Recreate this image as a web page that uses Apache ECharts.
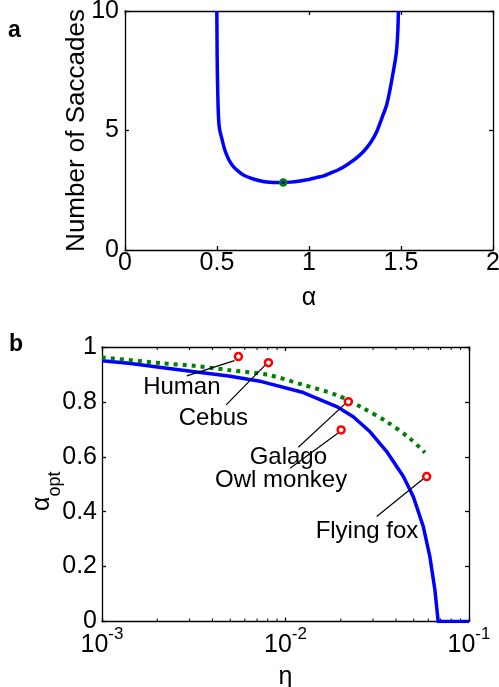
<!DOCTYPE html>
<html>
<head>
<meta charset="utf-8">
<script src="https://cdn.jsdelivr.net/npm/echarts@6/dist/echarts.min.js"></script>
<style>html,body{margin:0;padding:0;background:#fff;}#c{width:499px;height:687px;}</style>
</head>
<body>
<div id="c"></div>
<script>
// ---------- Panel a data ----------
const alphaA = [0.499, 0.500, 0.501, 0.503, 0.506, 0.511, 0.518, 0.526, 0.538, 0.553, 0.570, 0.589, 0.615, 0.643, 0.680, 0.716, 0.750, 0.788, 0.825, 0.860, 0.900, 0.951, 1.000, 1.040, 1.080, 1.114, 1.160, 1.205, 1.250, 1.295, 1.335, 1.368, 1.400, 1.422, 1.440, 1.458, 1.470, 1.477, 1.483, 1.486];
const nSaccades = [10, 9.0, 8.0, 7.0, 6.0, 5.23, 4.9, 4.67, 4.3, 3.97, 3.7, 3.49, 3.3, 3.14, 3.02, 2.93, 2.87, 2.83, 2.82, 2.82, 2.84, 2.89, 2.95, 3.03, 3.10, 3.21, 3.36, 3.56, 3.80, 4.11, 4.50, 4.95, 5.60, 6.07, 6.70, 7.46, 8.00, 8.44, 9.20, 10];
const minAlpha = [0.86];
const minN = [2.82];
const alphaTicks = [0, 0.5, 1, 1.5, 2];
const nTicks = [0, 5, 10];

// ---------- Panel b data ----------
const etaBlue = [0.001, 0.0014, 0.0021, 0.0032, 0.0049, 0.0074, 0.0125, 0.019, 0.0234, 0.0289, 0.0356, 0.0439, 0.0497, 0.0564, 0.0612, 0.0652, 0.0679, 0.1];
const alphaOptBlue = [0.950, 0.941, 0.925, 0.910, 0.894, 0.874, 0.834, 0.783, 0.746, 0.691, 0.619, 0.528, 0.455, 0.345, 0.236, 0.115, 0, 0];
const etaGreen = [0.001, 0.00212, 0.00322, 0.00489, 0.00807, 0.0125, 0.0190, 0.0265, 0.0356, 0.0476, 0.0575];
const alphaOptGreen = [0.962, 0.941, 0.931, 0.916, 0.898, 0.862, 0.825, 0.777, 0.728, 0.667, 0.615];
const species = ['Human', 'Cebus', 'Galago', 'Owl monkey', 'Flying fox'];
const etaSpecies = [0.00554, 0.00807, 0.0220, 0.0201, 0.0588];
const alphaSpecies = [0.965, 0.943, 0.801, 0.698, 0.528];
const etaExponents = [-3, -2, -1];
const alphaOptTicks = [0, 0.2, 0.4, 0.6, 0.8, 1];
const minorMultipliers = [2, 3, 4, 5, 6, 7, 8, 9];

// ---------- styles (offsets of annotation text / leader lines from each point, px) ----------
const annot = [
  {tx: -56.6, ty: 30.5, x1: -51.6, y1: 19.3, x2: -4, y2: 4},
  {tx: -55, ty: 56, x1: -42.3, y1: 42.3, x2: -3, y2: 2.3},
  {tx: -60, ty: 56, x1: -50, y1: 45.6, x2: -3.3, y2: 2.3},
  {tx: -60, ty: 50.5, x1: -51, y1: 38.3, x2: -3, y2: 3},
  {tx: -59.7, ty: 54.8, x1: -50, y1: 40, x2: -3, y2: 2}
];
const FONT = 'Liberation Sans, Arial, Helvetica, sans-serif';
const TXT = {fontFamily: FONT, fontSize: 25, color: '#000'};

const zip = (a, b) => a.map((v, i) => [v, b[i]]);
const minorTicks = [];
for (let e = etaExponents[0]; e < etaExponents[etaExponents.length - 1]; e++) {
  minorMultipliers.forEach(m => minorTicks.push([m * Math.pow(10, e), 0]));
}

const chart = echarts.init(document.getElementById('c'), null, {renderer: 'canvas'});
const tickIn = () => ({show: true, inside: true, length: 4, lineStyle: {color: '#000', width: 1.3, opacity: 1}});
const axLine = () => ({show: true, onZero: false, lineStyle: {color: '#000', width: 1.3, opacity: 1}});
const gridBase = {outerBoundsMode: 'none', containLabel: false, show: false};

const option = {
  backgroundColor: '#fff',
  animation: false,
  grid: [
    Object.assign({left: 125, top: 11, width: 368, height: 239}, gridBase),
    Object.assign({left: 102, top: 347, width: 367, height: 274.5}, gridBase)
  ],
  graphic: [
    {type: 'text', left: 8, top: 19, style: {text: 'a', font: 'bold 23px ' + FONT, fill: '#000'}},
    {type: 'text', left: 9, top: 333, style: {text: 'b', font: 'bold 23px ' + FONT, fill: '#000'}}
  ],
  xAxis: [
    {gridIndex: 0, type: 'value', min: alphaTicks[0], max: alphaTicks[alphaTicks.length - 1], interval: 0.5,
     axisLine: axLine(), axisTick: tickIn(), splitLine: {show: false},
     axisLabel: Object.assign({margin: 1}, TXT),
     name: 'α', nameLocation: 'middle', nameGap: 36, nameMoveOverlap: false, nameTextStyle: TXT},
    {gridIndex: 0, type: 'value', position: 'top', min: alphaTicks[0], max: alphaTicks[alphaTicks.length - 1], interval: 0.5,
     axisLine: axLine(), axisTick: tickIn(), splitLine: {show: false}, axisLabel: {show: false}},
    {gridIndex: 1, type: 'log', logBase: 10, min: Math.pow(10, etaExponents[0]), max: Math.pow(10, etaExponents[2]),
     axisLine: axLine(), axisTick: tickIn(), splitLine: {show: false},
     axisLabel: {margin: 4, formatter: v => '{b|10}{e|' + Math.round(Math.log10(v)) + '}',
       rich: {b: {fontFamily: FONT, fontSize: 25, color: '#000', verticalAlign: 'bottom', lineHeight: 32},
              e: {fontFamily: FONT, fontSize: 17, color: '#000', verticalAlign: 'top'}}},
     name: 'η', nameLocation: 'middle', nameGap: 43, nameMoveOverlap: false, nameTextStyle: TXT},
    {gridIndex: 1, type: 'log', logBase: 10, position: 'top', min: Math.pow(10, etaExponents[0]), max: Math.pow(10, etaExponents[2]),
     axisLine: axLine(), axisTick: tickIn(), splitLine: {show: false}, axisLabel: {show: false}}
  ],
  yAxis: [
    {gridIndex: 0, type: 'value', min: nTicks[0], max: nTicks[2], interval: 5,
     axisLine: axLine(), axisTick: tickIn(), splitLine: {show: false},
     axisLabel: Object.assign({margin: 6}, TXT),
     name: 'Number of Saccades', nameLocation: 'middle', nameGap: 35, nameMoveOverlap: false,
     nameTextStyle: {fontFamily: FONT, fontSize: 26, color: '#000'}},
    {gridIndex: 0, type: 'value', position: 'right', min: nTicks[0], max: nTicks[2], interval: 5,
     axisLine: axLine(), axisTick: tickIn(), splitLine: {show: false}, axisLabel: {show: false}},
    {gridIndex: 1, type: 'value', min: alphaOptTicks[0], max: alphaOptTicks[5], interval: 0.2,
     axisLine: axLine(), axisTick: tickIn(), splitLine: {show: false},
     axisLabel: Object.assign({margin: 5}, TXT),
     name: '{a|α}{s|opt}', nameLocation: 'middle', nameGap: 38, nameMoveOverlap: false,
     nameTextStyle: {padding: [0, 14, 0, 0],
       rich: {a: {fontFamily: FONT, fontSize: 25, color: '#000', verticalAlign: 'top', lineHeight: 34},
              s: {fontFamily: FONT, fontSize: 18, color: '#000', verticalAlign: 'bottom'}}}},
    {gridIndex: 1, type: 'value', position: 'right', min: alphaOptTicks[0], max: alphaOptTicks[5], interval: 0.2,
     axisLine: axLine(), axisTick: tickIn(), splitLine: {show: false}, axisLabel: {show: false}}
  ],
  series: [
    {type: 'line', xAxisIndex: 0, yAxisIndex: 0, data: zip(alphaA, nSaccades), showSymbol: false, smooth: 0.2,
     lineStyle: {color: '#0000ff', width: 3.5}, clip: true, z: 3},
    {type: 'scatter', xAxisIndex: 0, yAxisIndex: 0, data: zip(minAlpha, minN), symbol: 'circle', symbolSize: 6,
     itemStyle: {color: 'rgba(0,0,0,0)', borderColor: '#008000', borderWidth: 2.5, opacity: 1}, z: 5},
    {type: 'line', xAxisIndex: 2, yAxisIndex: 2, data: zip(etaBlue, alphaOptBlue), showSymbol: false,
     lineStyle: {color: '#0000ff', width: 3.5, join: 'round'}, z: 3},
    {type: 'line', xAxisIndex: 2, yAxisIndex: 2, data: zip(etaGreen, alphaOptGreen), showSymbol: false, smooth: 0.3,
     lineStyle: {color: '#008000', width: 4, type: [4, 5], cap: 'butt'}, z: 3},
    {type: 'custom', xAxisIndex: 2, yAxisIndex: 2, data: minorTicks, silent: true, z: 2,
     renderItem: (params, api) => {
       const b = api.coord([api.value(0), 0]);
       const t = api.coord([api.value(0), 1]);
       return {type: 'group', children: [
         {type: 'line', shape: {x1: b[0], y1: b[1], x2: b[0], y2: b[1] - 3}, style: {stroke: '#000', lineWidth: 1}},
         {type: 'line', shape: {x1: t[0], y1: t[1], x2: t[0], y2: t[1] + 3}, style: {stroke: '#000', lineWidth: 1}}
       ]};
     }},
    {type: 'custom', xAxisIndex: 2, yAxisIndex: 2, data: etaSpecies.map((v, i) => [v, alphaSpecies[i], i]), silent: true, z: 4,
     clip: false,
     renderItem: (params, api) => {
       const p = api.coord([api.value(0), api.value(1)]);
       const s = annot[api.value(2)];
       return {type: 'group', children: [
         {type: 'line', shape: {x1: p[0] + s.x1, y1: p[1] + s.y1, x2: p[0] + s.x2, y2: p[1] + s.y2},
          style: {stroke: '#000', lineWidth: 1.2}},
         {type: 'text', x: p[0] + s.tx, y: p[1] + s.ty,
          style: {text: species[api.value(2)], font: '24px ' + FONT, fill: '#000', align: 'center', verticalAlign: 'middle'}}
       ]};
     }},
    {type: 'scatter', xAxisIndex: 2, yAxisIndex: 2, data: zip(etaSpecies, alphaSpecies), symbol: 'circle', symbolSize: 7,
     itemStyle: {color: '#fff', borderColor: '#ff0000', borderWidth: 2.5, opacity: 1}, z: 6}
  ]
};
chart.setOption(option);
</script>
</body>
</html>
